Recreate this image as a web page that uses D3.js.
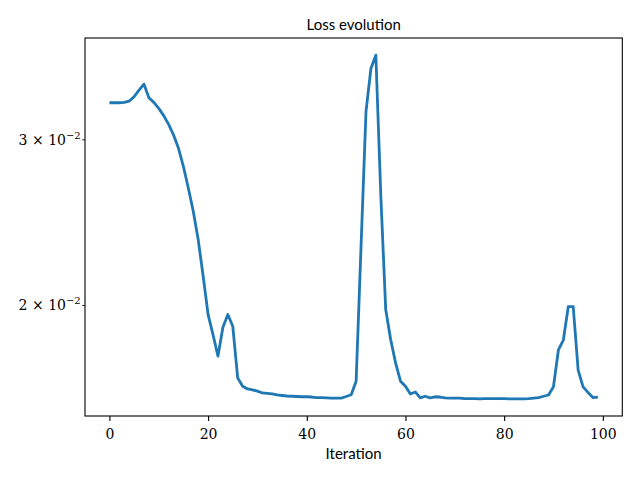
<!DOCTYPE html>
<meta charset="utf-8">
<style>

body {
  margin: 0;
  background: #fff;
}

.tick text {
  font-family: "DejaVu Serif", "Liberation Serif", serif;
}

.line {
  fill: none;
  stroke: #1f77b4;
  stroke-width: 2.8px;
  stroke-linejoin: round;
}

</style>
<body>
<script src="https://d3js.org/d3.v7.min.js"></script>
<script>

// loss per iteration
var loss = [
  0.03281, 0.03281, 0.03281, 0.03284, 0.03294, 0.03330, 0.03384, 0.03434, 0.03322, 0.03284,
  0.03236, 0.03179, 0.03112, 0.03032, 0.02935, 0.02806, 0.02662, 0.02514, 0.02346, 0.02146,
  0.01954, 0.01860, 0.01765, 0.01894, 0.01954, 0.01899, 0.01673, 0.01640, 0.01629, 0.01625,
  0.01620, 0.01613, 0.01611, 0.01609, 0.01605, 0.01603, 0.01601, 0.01600, 0.01599, 0.01598,
  0.01598, 0.01597, 0.01595, 0.01595, 0.01594, 0.01593, 0.01593, 0.01593, 0.01599, 0.01606,
  0.01660, 0.02310, 0.03210, 0.03568, 0.03686, 0.02618, 0.01978, 0.01838, 0.01736, 0.01660,
  0.01640, 0.01609, 0.01617, 0.01594, 0.01600, 0.01594, 0.01598, 0.01597, 0.01594, 0.01593,
  0.01593, 0.01593, 0.01591, 0.01591, 0.01591, 0.01590, 0.01591, 0.01591, 0.01591, 0.01591,
  0.01591, 0.01590, 0.01590, 0.01590, 0.01590, 0.01591, 0.01593, 0.01595, 0.01600, 0.01605,
  0.01638, 0.01792, 0.01836, 0.01992, 0.01992, 0.01706, 0.01637, 0.01615, 0.01595, 0.01597
];

var iterations = d3.range(loss.length);

var xTicks = [0, 20, 40, 60, 80, 100];

var yTicks = [0.02, 0.03];
var yTickMantissa = ["2", "3"];
var yTickExponent = ["\u22122", "\u22122"];

var titleText = "Loss evolution";
var xLabelText = "Iteration";

var width = 640;
var height = 480;

var margin = {top: 38, right: 17.7, bottom: 64, left: 85};

var innerWidth = width - margin.left - margin.right;
var innerHeight = height - margin.top - margin.bottom;

// matplotlib style 5% margins (log space for y)
var xMin = d3.min(iterations), xMax = d3.max(iterations);
var xPad = (xMax - xMin) * 0.05;

var lMin = Math.log10(d3.min(loss)), lMax = Math.log10(d3.max(loss));
var lPad = (lMax - lMin) * 0.05;

var xScale = d3.scaleLinear()
    .domain([xMin - xPad, xMax + xPad])
    .range([0, innerWidth]);

var yScale = d3.scaleLog()
    .domain([Math.pow(10, lMin - lPad), Math.pow(10, lMax + lPad)])
    .range([innerHeight, 0]);

var svg = d3.select("body").append("svg")
    .attr("width", width)
    .attr("height", height)
  .append("g")
    .attr("transform", `translate(${margin.left}, ${margin.top})`);

var line = d3.line()
    .x((d, i) => xScale(iterations[i]))
    .y(d => yScale(d));

svg.append("path")
    .datum(loss)
    .attr("class", "line")
    .attr("d", line);

var xAxis = svg.append("g")
    .attr("transform", `translate(0, ${innerHeight})`)
    .call(d3.axisBottom(xScale)
      .tickValues(xTicks)
      .tickSize(4.9)
      .tickPadding(8)
      .tickFormat(d3.format("d")));

xAxis.select(".domain").remove();
xAxis.selectAll(".tick line").attr("stroke", "#000").attr("stroke-width", 1.1);
xAxis.selectAll(".tick text")
    .attr("fill", "#000")
    .style("font-size", "14px");

var yAxis = svg.append("g")
    .call(d3.axisLeft(yScale)
      .tickValues(yTicks)
      .tickSize(2.8)
      .tickFormat(""));

yAxis.select(".domain").remove();
yAxis.selectAll(".tick line").attr("stroke", "#000").attr("stroke-width", 0.9);

var yLabels = yAxis.selectAll(".tick text")
    .attr("fill", "#000")
    .attr("x", -4.3)
    .attr("dy", "0.35em")
    .style("font-size", "14px");

yLabels.each(function(d, i) {
  var t = d3.select(this);
  t.append("tspan").text(yTickMantissa[i] + " \u00d7 10");
  t.append("tspan")
    .attr("dy", "-6")
    .style("font-size", "10px")
    .text(yTickExponent[i]);
});

// frame
svg.append("rect")
    .attr("width", innerWidth)
    .attr("height", innerHeight)
    .attr("fill", "none")
    .attr("stroke", "#000")
    .attr("stroke-width", 1.1);

svg.append("text")
    .attr("x", innerWidth / 2)
    .attr("y", -8)
    .attr("text-anchor", "middle")
    .style("font-family", "Lato, 'DejaVu Sans', sans-serif")
    .style("font-size", "15px")
    .text(titleText);

svg.append("text")
    .attr("x", innerWidth / 2)
    .attr("y", innerHeight + 43)
    .attr("text-anchor", "middle")
    .style("font-family", "Lato, 'DejaVu Sans', sans-serif")
    .style("font-size", "15px")
    .text(xLabelText);

</script>
